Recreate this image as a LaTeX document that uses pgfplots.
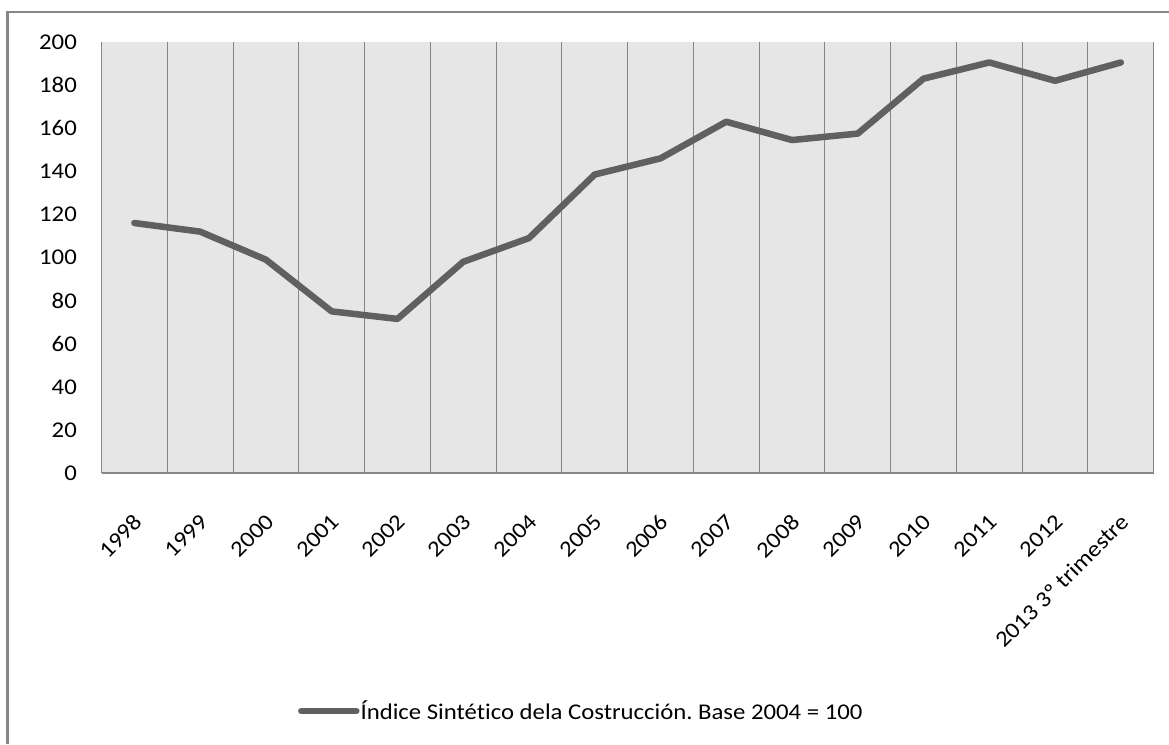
\documentclass[border=0pt]{standalone}
\usepackage{fontspec}
\setmainfont[FakeStretch=1.10, Ligatures=NoCommon]{Carlito}
\usepackage{pgfplots}
\pgfplotsset{compat=1.18}
\definecolor{bg}{RGB}{230,230,230}
\definecolor{gridc}{RGB}{134,134,134}
\definecolor{ln}{RGB}{96,96,96}
\frenchspacing
\begin{document}
\begin{tikzpicture}[x=1pt,y=1pt]
\useasboundingbox (0,0) rectangle (1169,744);
\draw[gridc, line width=3pt] (7.5,0) -- (7.5,732);
\draw[gridc, line width=1.5pt] (6,732) -- (1169,732);
\begin{axis}[
  at={(101.5pt,271pt)}, anchor=south west,
  scale only axis, width=1052.2pt, height=431pt,
  xmin=-0.5, xmax=15.5, ymin=0, ymax=200,
  xtick={0,...,15},
  xticklabels={1998,1999,2000,2001,2002,2003,2004,2005,2006,2007,2008,2009,2010,2011,2012,2013 3º trimestre},
  minor xtick={-0.5,0.5,...,15.5},
  xminorgrids=true,
  minor grid style={gridc, line width=1pt},
  ytick={0,20,...,200},
  extra y ticks={0}, extra y tick labels={},
  extra y tick style={ymajorgrids=true, major grid style={gridc, line width=1.5pt}},
  major tick length=0pt, minor tick length=0pt,
  axis line style={draw=none},
  axis background/.style={fill=bg},
  /pgf/number format/assume math mode=true,
  tick label style={font=\fontsize{22.5}{27}\selectfont, text=black},
  yticklabel style={anchor=east, inner sep=0pt, xshift=-24.5pt},
  xticklabel style={xshift=4pt, yshift=-45pt, rotate=45, anchor=east, inner sep=0pt},
  legend style={at={(0.1868,-0.5522)}, anchor=west, draw=none, fill=none,
    inner sep=0pt, outer sep=0pt, font=\fontsize{22.5}{27}\selectfont,
    nodes={inner sep=1pt}},
  legend image code/.code={\draw[#1] (0pt,0pt) -- (55pt,0pt);},
  clip=false,
]
\addplot[ln, line width=6.5pt, line cap=round, line join=round] coordinates {
(0,116) (1,112) (2,99) (3,75) (4,71.5) (5,98) (6,109) (7,138.5)
(8,146) (9,163) (10,154.5) (11,157.5) (12,183) (13,190.5) (14,182) (15,190.5)};
\addlegendentry{Índice Sintético dela Costrucción. Base 2004 = 100}
\end{axis}
\end{tikzpicture}
\end{document}
